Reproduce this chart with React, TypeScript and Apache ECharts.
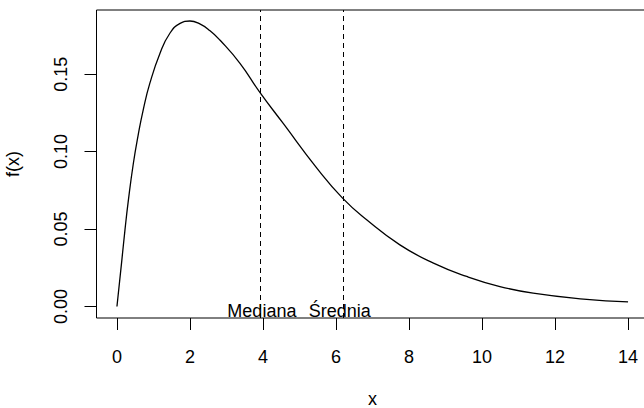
import React, { useEffect, useRef } from "react";
import * as echarts from "echarts";

// Curve values
const xValues = [0, 0.13, 0.22, 0.31, 0.45, 0.58, 0.72, 0.9, 1.18, 1.45, 1.73, 2.0, 2.27, 2.55, 2.82, 3.37, 3.9, 4.56, 5.47, 6.18, 6.84, 7.75, 8.67, 9.58, 10.49, 11.4, 12.78, 14];
const fValues = [0, 0.029, 0.0495, 0.068, 0.0925, 0.1105, 0.127, 0.144, 0.1635, 0.1764, 0.1828, 0.1843, 0.1824, 0.178, 0.172, 0.157, 0.1387, 0.118, 0.0895, 0.07, 0.056, 0.0398, 0.028, 0.0194, 0.0129, 0.0086, 0.0048, 0.003];

// Axis ranges and ticks
const X_MIN = -0.56;
const X_MAX = 14.56;
const Y_MIN = -0.0074;
const Y_MAX = 0.1914;
const xTicks = [0, 2, 4, 6, 8, 10, 12, 14];
const yTicks = [0, 0.05, 0.1, 0.15];

// Reference lines and their annotations
const medianX = 3.92;
const meanX = 6.19;
const annotationTexts = ["Mediana", "Średnia"];
const annotationX = [3.97, 6.1];
const annotationY = [-0.0027, -0.0027];

const FONT = "'Liberation Sans', Arial, Helvetica, sans-serif";

export default function App() {
  const ref = useRef<HTMLDivElement>(null);
  useEffect(() => {
    if (!ref.current) return;
    const chart = echarts.init(ref.current, undefined, { renderer: "svg" });
    const textBase = { fontSize: 18, color: "#000", fontFamily: FONT };
    chart.setOption({
      animation: false,
      backgroundColor: "#fff",
      grid: {
        left: 96.5,
        top: 10,
        width: 552,
        height: 308,
        show: true,
        borderColor: "#000",
        borderWidth: 1,
        backgroundColor: "transparent",
        containLabel: false,
        outerBoundsMode: "none",
      },
      xAxis: {
        type: "value",
        min: X_MIN,
        max: X_MAX,
        name: "x",
        nameLocation: "middle",
        nameGap: 72,
        nameTextStyle: textBase,
        axisLine: { show: false, onZero: false },
        axisTick: { show: true, customValues: xTicks, length: 12, inside: false, lineStyle: { color: "#000", width: 1 } },
        axisLabel: { customValues: xTicks, margin: 30, ...textBase },
        splitLine: { show: false },
      },
      yAxis: {
        type: "value",
        min: Y_MIN,
        max: Y_MAX,
        name: "f(x)",
        nameLocation: "middle",
        nameRotate: 90,
        nameGap: 75,
        nameTextStyle: textBase,
        axisLine: { show: false, onZero: false },
        axisTick: { show: true, customValues: yTicks, length: 12, inside: false, lineStyle: { color: "#000", width: 1 } },
        axisLabel: {
          customValues: yTicks,
          rotate: 90,
          margin: 27,
          formatter: (v: number) => v.toFixed(2),
          ...textBase,
        },
        splitLine: { show: false },
      },
      series: [
        {
          type: "line",
          data: xValues.map((x, i) => [x, fValues[i]]),
          smooth: 0.5,
          symbol: "none",
          lineStyle: { color: "#000", width: 1.3 },
          markLine: {
            silent: true,
            symbol: "none",
            label: { show: false },
            lineStyle: { type: [5, 4], color: "#000", width: 1 },
            data: [{ xAxis: medianX }, { xAxis: meanX }],
          },
        },
        {
          type: "scatter",
          symbolSize: 0,
          itemStyle: { opacity: 1 },
          data: annotationTexts.map((t, i) => ({ value: [annotationX[i], annotationY[i]], name: t })),
          label: {
            show: true,
            position: "inside",
            formatter: (p: any) => p.name,
            textBorderWidth: 0,
            ...textBase,
          },
        },
      ],
    });
    return () => chart.dispose();
  }, []);
  return <div ref={ref} style={{ position: "absolute", left: 0, top: 0, width: 644, height: 408 }} />;
}
